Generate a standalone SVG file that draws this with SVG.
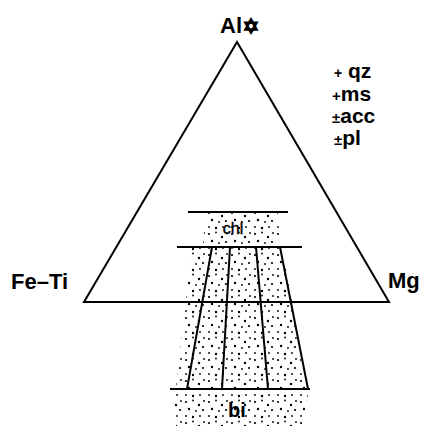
<svg xmlns="http://www.w3.org/2000/svg" width="426" height="426" viewBox="0 0 426 426">
<style>
.ln{stroke:#000;stroke-width:2;fill:none;stroke-linecap:butt}
.lbl{font-family:"Liberation Sans",Arial,sans-serif;font-weight:bold;fill:#000}
.sm{font-family:"Liberation Sans",Arial,sans-serif;fill:#000}
</style>
<defs>
<pattern id="dots1" patternUnits="userSpaceOnUse" width="23" height="21">
<circle cx="2" cy="3" r="1.1"/><circle cx="9" cy="1.5" r="0.9"/><circle cx="15" cy="6" r="1.2"/><circle cx="20" cy="2" r="0.9"/>
<circle cx="5" cy="10" r="1.2"/><circle cx="12" cy="12" r="0.9"/><circle cx="19" cy="11" r="1.1"/>
<circle cx="2" cy="17" r="0.9"/><circle cx="9" cy="18" r="1.2"/><circle cx="16" cy="17" r="0.9"/>
</pattern>
</defs>
<g id="stipple">
<polygon points="205,213 278,213 280,246 203,246" fill="url(#dots1)"/>
<polygon points="192,248 283,248 306,388 176,388" fill="url(#dots1)"/>
<polygon points="173,391 308,391 305,426 176,426" fill="url(#dots1)"/>
</g>
<g id="triangle">
<polygon class="ln" points="237,42 84,302 389,302"/>
</g>
<g id="connectors">
<line class="ln" x1="188" y1="212" x2="288" y2="212"/>
<line class="ln" x1="177" y1="247" x2="302" y2="247"/>
<line class="ln" x1="170" y1="389" x2="310" y2="389"/>
<line class="ln" x1="212" y1="247" x2="187" y2="389"/>
<line class="ln" x1="230" y1="247" x2="222" y2="389"/>
<line class="ln" x1="256" y1="247" x2="268" y2="389"/>
<line class="ln" x1="280" y1="247" x2="308" y2="389"/>
</g>
<g id="node-al"><text class="lbl" x="220" y="33" font-size="22">Al<tspan font-family="'DejaVu Sans',sans-serif" font-size="19" dx="1" stroke="#000" stroke-width="1.6">✡</tspan></text></g>
<g id="node-feti"><text class="lbl" x="11" y="289" font-size="22">Fe–Ti</text></g>
<g id="node-mg"><text class="lbl" x="388" y="288" font-size="22">Mg</text></g>
<g id="node-chl"><text class="sm" x="233" y="234" font-size="16" text-anchor="middle" stroke="#000" stroke-width="0.4">chl</text></g>
<g id="node-bi"><text class="lbl" x="237" y="417" font-size="20" text-anchor="middle">bi</text></g>
<g id="assemblage">
<text class="lbl" x="334" y="78" font-size="21"><tspan font-size="14">+</tspan> qz</text>
<text class="lbl" x="332" y="101" font-size="21"><tspan font-size="15">+</tspan>ms</text>
<text class="lbl" x="332" y="123" font-size="21"><tspan font-size="15">±</tspan>acc</text>
<text class="lbl" x="334" y="145" font-size="21"><tspan font-size="15">±</tspan>pl</text>
</g>
</svg>
